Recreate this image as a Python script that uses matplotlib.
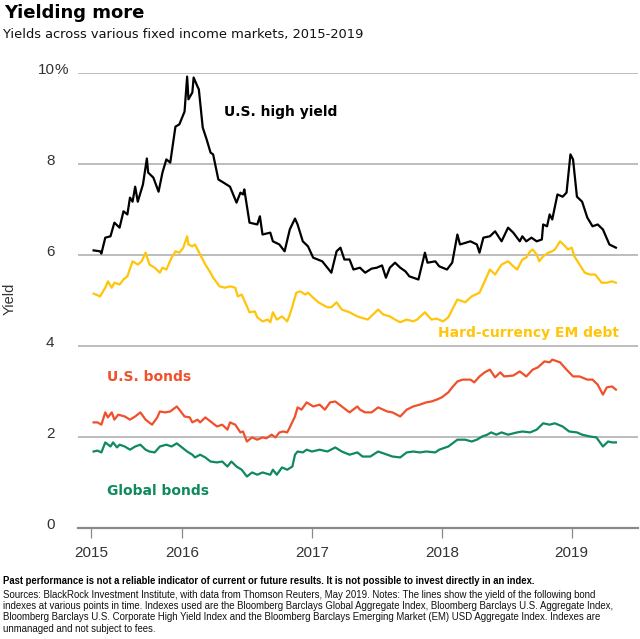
import matplotlib
matplotlib.use("Agg")
import matplotlib.pyplot as plt
import matplotlib.transforms as mtransforms

# ---------------------------------------------------------------
# data (decimal years, yield in %)
# ---------------------------------------------------------------
HY_X = [2015.32, 2015.37, 2015.38, 2015.41, 2015.45, 2015.48, 2015.52, 2015.55, 2015.58, 2015.60,
        2015.62, 2015.64, 2015.66, 2015.70, 2015.73, 2015.74, 2015.78, 2015.82, 2015.85, 2015.88,
        2015.91, 2015.95, 2015.98, 2016.02, 2016.04, 2016.05, 2016.08, 2016.09, 2016.12, 2016.13,
        2016.16, 2016.19, 2016.22, 2016.24, 2016.28, 2016.32, 2016.37, 2016.42, 2016.45, 2016.47,
        2016.48, 2016.52, 2016.58, 2016.60, 2016.62, 2016.68, 2016.70, 2016.75, 2016.79, 2016.83,
        2016.87, 2016.89, 2016.93, 2016.97, 2017.01, 2017.08, 2017.15, 2017.19, 2017.22, 2017.25,
        2017.29, 2017.32, 2017.37, 2017.41, 2017.46, 2017.50, 2017.54, 2017.57, 2017.60, 2017.64,
        2017.68, 2017.72, 2017.75, 2017.82, 2017.87, 2017.89, 2017.95, 2017.98, 2018.04, 2018.08,
        2018.12, 2018.14, 2018.22, 2018.27, 2018.29, 2018.32, 2018.37, 2018.41, 2018.46, 2018.51,
        2018.55, 2018.60, 2018.62, 2018.65, 2018.69, 2018.73, 2018.77, 2018.78, 2018.81, 2018.83,
        2018.85, 2018.89, 2018.93, 2018.96, 2018.99, 2019.01, 2019.04, 2019.08, 2019.12, 2019.16,
        2019.20, 2019.24, 2019.29, 2019.34]
HY_Y = [6.09, 6.07, 6.02, 6.37, 6.40, 6.70, 6.59, 6.95, 6.88, 7.25,
        7.16, 7.49, 7.16, 7.54, 8.11, 7.80, 7.69, 7.38, 7.80, 8.09,
        8.02, 8.81, 8.86, 9.14, 9.91, 9.41, 9.56, 9.89, 9.69, 9.63,
        8.79, 8.53, 8.24, 8.20, 7.65, 7.58, 7.49, 7.14, 7.36, 7.32,
        7.43, 6.70, 6.66, 6.84, 6.44, 6.48, 6.29, 6.22, 6.07, 6.55,
        6.79, 6.66, 6.29, 6.18, 5.93, 5.85, 5.60, 6.07, 6.15, 5.89,
        5.89, 5.67, 5.71, 5.60, 5.69, 5.71, 5.76, 5.49, 5.71, 5.82,
        5.71, 5.63, 5.52, 5.45, 6.04, 5.82, 5.85, 5.74, 5.67, 5.82,
        6.44, 6.22, 6.29, 6.22, 6.04, 6.37, 6.40, 6.51, 6.29, 6.59,
        6.48, 6.29, 6.40, 6.29, 6.37, 6.29, 6.33, 6.66, 6.62, 6.88,
        6.77, 7.32, 7.27, 7.36, 8.20, 8.09, 7.27, 7.16, 6.81, 6.62,
        6.66, 6.55, 6.22, 6.15]

EM_X = [2015.32, 2015.37, 2015.41, 2015.43, 2015.46, 2015.48, 2015.52, 2015.55, 2015.58, 2015.62,
        2015.66, 2015.69, 2015.72, 2015.75, 2015.79, 2015.83, 2015.85, 2015.88, 2015.92, 2015.95,
        2015.98, 2016.01, 2016.04, 2016.05, 2016.08, 2016.10, 2016.14, 2016.18, 2016.22, 2016.24,
        2016.29, 2016.33, 2016.37, 2016.41, 2016.43, 2016.46, 2016.50, 2016.52, 2016.56, 2016.58,
        2016.62, 2016.66, 2016.68, 2016.70, 2016.73, 2016.77, 2016.81, 2016.83, 2016.85, 2016.88,
        2016.91, 2016.95, 2016.97, 2017.01, 2017.05, 2017.08, 2017.12, 2017.15, 2017.19, 2017.23,
        2017.29, 2017.35, 2017.37, 2017.43, 2017.51, 2017.55, 2017.60, 2017.64, 2017.68, 2017.73,
        2017.78, 2017.81, 2017.87, 2017.92, 2017.96, 2018.01, 2018.05, 2018.08, 2018.12, 2018.18,
        2018.23, 2018.29, 2018.33, 2018.37, 2018.41, 2018.46, 2018.51, 2018.55, 2018.58, 2018.62,
        2018.65, 2018.68, 2018.70, 2018.73, 2018.75, 2018.78, 2018.82, 2018.85, 2018.87, 2018.91,
        2018.95, 2018.97, 2019.00, 2019.02, 2019.06, 2019.10, 2019.14, 2019.18, 2019.20, 2019.23,
        2019.27, 2019.31, 2019.34]
EM_Y = [5.14, 5.08, 5.27, 5.41, 5.27, 5.38, 5.34, 5.45, 5.52, 5.85,
        5.78, 5.85, 6.04, 5.78, 5.71, 5.60, 5.71, 5.67, 5.93, 6.07,
        6.04, 6.15, 6.40, 6.22, 6.18, 6.22, 6.00, 5.78, 5.60, 5.49,
        5.30, 5.27, 5.30, 5.27, 5.08, 5.12, 4.86, 4.73, 4.75, 4.62,
        4.53, 4.57, 4.51, 4.73, 4.57, 4.64, 4.53, 4.68, 4.86, 5.16,
        5.19, 5.12, 5.16, 5.05, 4.95, 4.90, 4.84, 4.84, 4.95, 4.79,
        4.73, 4.64, 4.62, 4.57, 4.79, 4.68, 4.64, 4.57, 4.51, 4.57,
        4.53, 4.57, 4.73, 4.57, 4.59, 4.53, 4.62, 4.79, 5.01, 4.95,
        5.08, 5.16, 5.41, 5.67, 5.56, 5.78, 5.85, 5.74, 5.67, 5.89,
        5.93, 6.07, 6.11, 6.00, 5.85, 5.96, 6.04, 6.07, 6.11, 6.29,
        6.18, 6.11, 6.15, 5.96, 5.78, 5.60, 5.56, 5.56, 5.49, 5.38,
        5.38, 5.41, 5.38]

US_X = [2015.32, 2015.35, 2015.38, 2015.41, 2015.43, 2015.46, 2015.48, 2015.51, 2015.56, 2015.60,
        2015.64, 2015.68, 2015.72, 2015.77, 2015.81, 2015.83, 2015.87, 2015.91, 2015.96, 2015.98,
        2016.02, 2016.06, 2016.08, 2016.12, 2016.14, 2016.18, 2016.22, 2016.27, 2016.31, 2016.35,
        2016.37, 2016.41, 2016.45, 2016.47, 2016.50, 2016.54, 2016.58, 2016.62, 2016.65, 2016.69,
        2016.72, 2016.75, 2016.78, 2016.81, 2016.83, 2016.87, 2016.89, 2016.92, 2016.96, 2017.01,
        2017.06, 2017.10, 2017.14, 2017.18, 2017.23, 2017.29, 2017.35, 2017.37, 2017.41, 2017.46,
        2017.51, 2017.58, 2017.62, 2017.68, 2017.73, 2017.78, 2017.83, 2017.88, 2017.92, 2017.96,
        2018.00, 2018.05, 2018.08, 2018.12, 2018.16, 2018.22, 2018.25, 2018.29, 2018.33, 2018.37,
        2018.41, 2018.45, 2018.48, 2018.55, 2018.60, 2018.65, 2018.70, 2018.74, 2018.79, 2018.83,
        2018.85, 2018.91, 2018.96, 2019.01, 2019.06, 2019.12, 2019.16, 2019.20, 2019.24, 2019.27,
        2019.31, 2019.34]
US_Y = [2.31, 2.31, 2.26, 2.53, 2.42, 2.53, 2.37, 2.48, 2.44, 2.37,
        2.44, 2.53, 2.37, 2.26, 2.42, 2.55, 2.53, 2.55, 2.66, 2.59,
        2.44, 2.42, 2.31, 2.37, 2.31, 2.42, 2.33, 2.22, 2.26, 2.15,
        2.31, 2.26, 2.09, 2.11, 1.89, 1.98, 1.93, 1.98, 1.96, 2.04,
        1.98, 2.09, 2.11, 2.09, 2.20, 2.44, 2.64, 2.59, 2.75, 2.66,
        2.70, 2.59, 2.75, 2.77, 2.66, 2.53, 2.66, 2.59, 2.53, 2.53,
        2.64, 2.55, 2.53, 2.44, 2.59, 2.66, 2.70, 2.75, 2.77, 2.81,
        2.86, 2.97, 3.08, 3.21, 3.25, 3.25, 3.19, 3.32, 3.41, 3.47,
        3.30, 3.41, 3.32, 3.34, 3.43, 3.32, 3.47, 3.52, 3.65, 3.63,
        3.69, 3.63, 3.47, 3.32, 3.32, 3.25, 3.25, 3.14, 2.92, 3.08,
        3.10, 3.03]

GL_X = [2015.32, 2015.35, 2015.38, 2015.41, 2015.45, 2015.47, 2015.50, 2015.52, 2015.56, 2015.60,
        2015.64, 2015.68, 2015.72, 2015.75, 2015.79, 2015.83, 2015.88, 2015.92, 2015.96, 2016.00,
        2016.04, 2016.08, 2016.10, 2016.14, 2016.18, 2016.22, 2016.27, 2016.31, 2016.35, 2016.38,
        2016.42, 2016.46, 2016.50, 2016.54, 2016.58, 2016.62, 2016.68, 2016.70, 2016.73, 2016.77,
        2016.81, 2016.85, 2016.87, 2016.89, 2016.93, 2016.96, 2017.00, 2017.06, 2017.12, 2017.18,
        2017.23, 2017.29, 2017.35, 2017.39, 2017.45, 2017.51, 2017.58, 2017.62, 2017.68, 2017.73,
        2017.78, 2017.83, 2017.88, 2017.95, 2017.98, 2018.05, 2018.12, 2018.18, 2018.23, 2018.27,
        2018.31, 2018.35, 2018.38, 2018.42, 2018.46, 2018.51, 2018.58, 2018.62, 2018.68, 2018.73,
        2018.78, 2018.83, 2018.87, 2018.93, 2018.98, 2019.04, 2019.08, 2019.14, 2019.19, 2019.24,
        2019.28, 2019.31, 2019.34]
GL_Y = [1.67, 1.69, 1.65, 1.87, 1.78, 1.87, 1.76, 1.82, 1.78, 1.71,
        1.78, 1.82, 1.71, 1.67, 1.65, 1.78, 1.82, 1.78, 1.85, 1.76,
        1.67, 1.60, 1.54, 1.60, 1.54, 1.45, 1.43, 1.45, 1.34, 1.45,
        1.34, 1.27, 1.12, 1.21, 1.16, 1.21, 1.16, 1.27, 1.16, 1.32,
        1.27, 1.34, 1.60, 1.67, 1.65, 1.71, 1.67, 1.71, 1.67, 1.76,
        1.67, 1.60, 1.65, 1.56, 1.56, 1.67, 1.60, 1.56, 1.54, 1.65,
        1.67, 1.65, 1.67, 1.65, 1.71, 1.78, 1.93, 1.93, 1.89, 1.93,
        2.00, 2.04, 2.09, 2.04, 2.09, 2.04, 2.09, 2.11, 2.09, 2.15,
        2.29, 2.26, 2.29, 2.22, 2.11, 2.09, 2.04, 2.00, 1.98, 1.78,
        1.89, 1.87, 1.87]

YEAR_TICKS = [2015.3, 2016, 2017, 2018, 2019]
YEAR_LABELS = ["2015", "2016", "2017", "2018", "2019"]
Y_TICKS = [0, 2, 4, 6, 8, 10]

BLACK, YELLOW, RED, GREEN = "#000000", "#FFC50A", "#F0502A", "#0E8A5C"

HEAD_FONT = ["DejaVu Sans"]
TICK_FONT = ["Liberation Sans", "DejaVu Sans"]
NOTE_FONT = ["DejaVu Sans Condensed", "Liberation Sans", "DejaVu Sans"]

FOOT_BOLD = ("Past performance is not a reliable indicator of current or future results. "
             "It is not possible to invest directly in an index.")
FOOT_LINES = [
    "Sources: BlackRock Investment Institute, with data from Thomson Reuters, May 2019. "
    "Notes: The lines show the yield of the following bond",
    "indexes at various points in time. Indexes used are the Bloomberg Barclays Global "
    "Aggregate Index, Bloomberg Barclays U.S. Aggregate Index,",
    "Bloomberg Barclays U.S. Corporate High Yield Index and the Bloomberg Barclays Emerging "
    "Market (EM) USD Aggregate Index. Indexes are",
    "unmanaged and not subject to fees.",
]
FOOT_WIDTHS = [599, 629, 610, None]   # px width of each note line in the reference


def _scale_to(t, renderer, target_px):
    w = t.get_window_extent(renderer).width
    return t.get_fontsize() * target_px / w


def main():
    W, H = 640, 639
    fig = plt.figure(figsize=(W / 100, H / 100), dpi=100)
    ax = fig.add_axes([78 / W, 1 - 527.5 / H, 560 / W, 455 / H])

    for xs, ys, c in ((HY_X, HY_Y, BLACK), (EM_X, EM_Y, YELLOW),
                      (US_X, US_Y, RED), (GL_X, GL_Y, GREEN)):
        ax.plot(xs, ys, color=c, lw=1.6, solid_joinstyle="round", zorder=3)

    ax.set_xlim(2015.2, 2019.51)
    ax.set_ylim(0, 10)

    # gridlines + baseline
    for s in ("top", "right", "left"):
        ax.spines[s].set_visible(False)
    ax.spines["bottom"].set_color("#8a8a8a")
    ax.spines["bottom"].set_linewidth(1.6)
    ax.set_yticks(Y_TICKS)
    ax.yaxis.grid(True, color="#b8b8b8", lw=1.3)
    ax.set_axisbelow(True)

    ax.set_yticklabels([str(v) for v in Y_TICKS], fontfamily=TICK_FONT,
                       fontsize=11, color="#333333")
    ax.tick_params(axis="y", length=0, pad=17)
    up = mtransforms.ScaledTranslation(0, 3 / 72, fig.dpi_scale_trans)
    for lbl in ax.get_yticklabels():
        lbl.set_transform(lbl.get_transform() + up)
    pct_tr = (mtransforms.blended_transform_factory(ax.transAxes, ax.transData)
              + mtransforms.ScaledTranslation(-17 / 72, 3 / 72, fig.dpi_scale_trans))
    ax.text(0, 10, "%", transform=pct_tr, ha="left", va="center_baseline",
            fontfamily=TICK_FONT, fontsize=11, color="#333333")

    ax.set_xticks(YEAR_TICKS)
    ax.set_xticklabels(YEAR_LABELS, fontfamily=TICK_FONT, fontsize=11, color="#333333")
    ax.tick_params(axis="x", length=7.5, width=0.9, color="#8a8a8a", pad=6)

    fig.text(10 / W, 1 - 299 / H, "Yield", rotation=90, ha="center", va="center",
             fontfamily=TICK_FONT, fontsize=10.5, color="#333333")

    # series labels
    lab = dict(fontfamily=HEAD_FONT, fontweight="bold", fontsize=10, va="center", ha="left")
    ax.text(2016.32, 9.13, "U.S. high yield", color=BLACK, **lab)
    ax.text(2017.97, 4.27, "Hard-currency EM debt", color=YELLOW, **lab)
    ax.text(2015.42, 3.31, "U.S. bonds", color=RED, **lab)
    ax.text(2015.42, 0.81, "Global bonds", color=GREEN, **lab)

    # titles
    fig.text(4 / W, 1 - 17.5 / H, "Yielding more", fontfamily=HEAD_FONT, fontweight="bold",
             fontsize=13, va="baseline", ha="left")
    sub = fig.text(3 / W, 1 - 38 / H, "Yields across various fixed income markets, 2015-2019",
                   fontfamily=HEAD_FONT, fontsize=9.3, va="baseline", ha="left",
                   color="#111111")

    # footer
    bold = fig.text(3 / W, 1 - 584 / H, FOOT_BOLD, fontfamily=NOTE_FONT, fontweight="bold",
                    fontsize=7.3, va="baseline", ha="left")
    notes = []
    for i, line in enumerate(FOOT_LINES):
        notes.append(fig.text(3 / W, 1 - (597.5 + 11.5 * i) / H, line, fontfamily=NOTE_FONT,
                              fontsize=7.3, va="baseline", ha="left", color="#111111"))

    # squeeze texts to the widths they take in the reference
    r = fig.canvas.get_renderer()
    sub.set_fontsize(_scale_to(sub, r, 360))
    bold.set_fontsize(_scale_to(bold, r, 532))
    size = min(_scale_to(t, r, w) for t, w in zip(notes, FOOT_WIDTHS) if w)
    for t in notes:
        t.set_fontsize(size)

    fig.savefig("out.png", dpi=100)
    plt.close(fig)


if __name__ == "__main__":
    main()
